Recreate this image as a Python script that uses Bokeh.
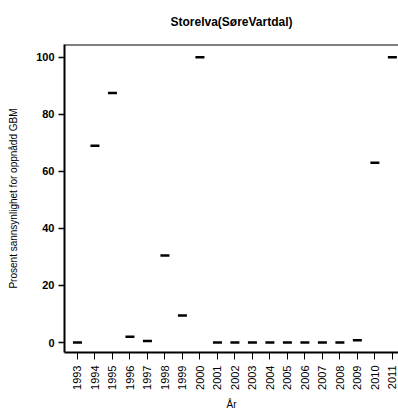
import math
from bokeh.plotting import figure
from bokeh.models import Range1d, FixedTicker, Span
from bokeh.embed import file_html
from bokeh.resources import INLINE

# Data
years = [1993, 1994, 1995, 1996, 1997, 1998, 1999, 2000, 2001, 2002,
         2003, 2004, 2005, 2006, 2007, 2008, 2009, 2010, 2011]
year_labels = ["1993", "1994", "1995", "1996", "1997", "1998", "1999", "2000", "2001", "2002",
               "2003", "2004", "2005", "2006", "2007", "2008", "2009", "2010", "2011"]
probability = [0, 69, 87.5, 2, 0.5, 30.5, 9.5, 100, 0, 0,
               0, 0, 0, 0, 0, 0, 0.8, 63, 100]
y_ticks = [0, 20, 40, 60, 80, 100]

FONT = "Liberation Sans"
Y_END = 104.5

p = figure(width=398, height=412, output_backend="svg", toolbar_location=None,
           x_range=Range1d(1992.26, 2011.35), y_range=Range1d(-3.5, Y_END),
           min_border_left=64, min_border_right=0, min_border_top=44, min_border_bottom=59)

p.title.text = "Storelva(SøreVartdal)"
p.title.text_font = FONT
p.title.text_font_size = "12px"
p.title.text_font_style = "bold"
p.title.text_color = "black"
p.title.align = "center"
p.title.vertical_align = "top"
p.title.standoff = 28

p.outline_line_color = None
p.xgrid.visible = False
p.ygrid.visible = False
p.background_fill_color = "white"
p.border_fill_color = "white"

p.add_layout(Span(location=Y_END, dimension="width", line_color="black", line_width=2))

p.rect(x=years, y=probability, width=9, height=2.5,
       width_units="screen", height_units="screen",
       fill_color="black", line_color=None)

xa = p.xaxis[0]
xa.ticker = FixedTicker(ticks=years)
xa.major_label_overrides = {y: l for y, l in zip(years, year_labels)}
xa.major_label_orientation = math.pi / 2
xa.major_label_text_font = FONT
xa.major_label_text_font_size = "11px"
xa.major_label_text_color = "black"
xa.major_label_standoff = 6
xa.major_tick_out = 7
xa.major_tick_in = 0
xa.minor_tick_line_color = None
xa.axis_line_width = 2
xa.major_tick_line_width = 1
xa.axis_label = "År"
xa.axis_label_text_font = FONT
xa.axis_label_text_font_size = "10px"
xa.axis_label_text_font_style = "normal"
xa.axis_label_text_color = "black"
xa.axis_label_standoff = 6

ya = p.yaxis[0]
ya.ticker = FixedTicker(ticks=y_ticks)
ya.major_label_orientation = "horizontal"
ya.major_label_text_font = FONT
ya.major_label_text_font_size = "11px"
ya.major_label_text_font_style = "bold"
ya.major_label_text_color = "black"
ya.major_label_standoff = 4
ya.major_tick_out = 6
ya.major_tick_in = 0
ya.minor_tick_line_color = None
ya.axis_line_width = 2
ya.major_tick_line_width = 1.5
ya.axis_label = "Prosent sannsynlighet for oppnådd GBM"
ya.axis_label_text_font = FONT
ya.axis_label_text_font_size = "10px"
ya.axis_label_text_font_style = "normal"
ya.axis_label_text_color = "black"
ya.axis_label_standoff = 14

open("out.html", "w").write(file_html(p, INLINE))
